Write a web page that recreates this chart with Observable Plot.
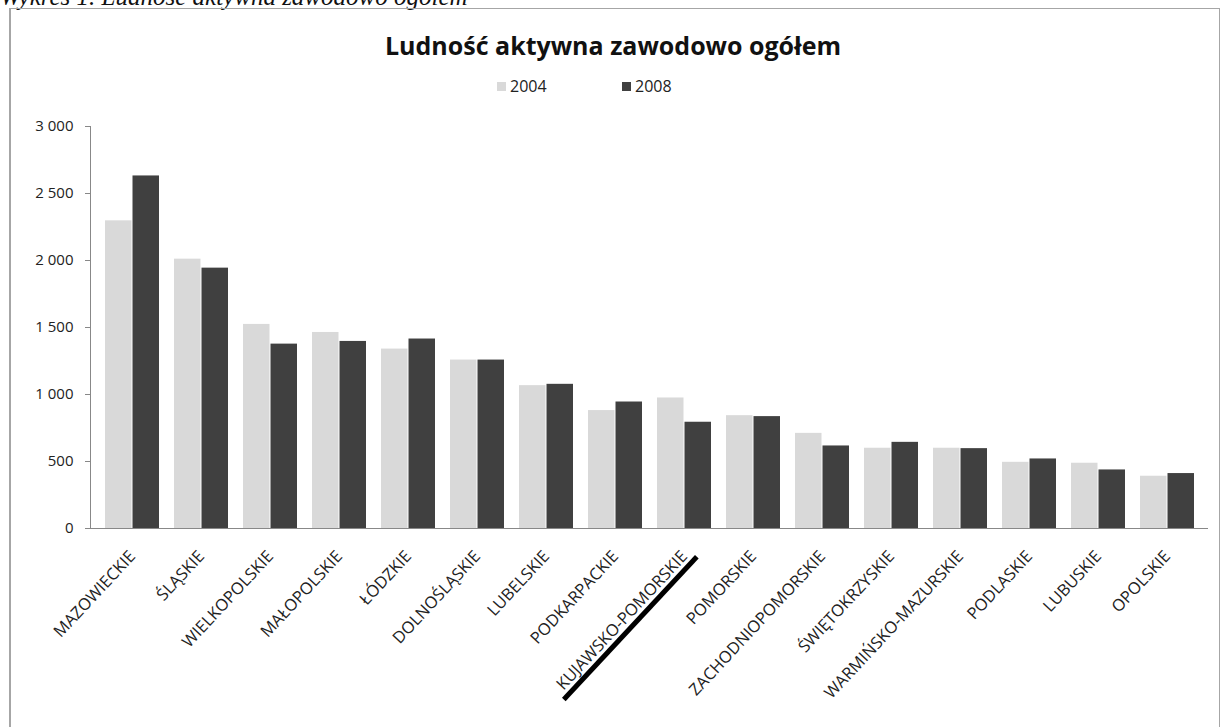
<!DOCTYPE html>
<html>
<head>
<meta charset="utf-8">
<script src="https://cdn.jsdelivr.net/npm/d3@7"></script>
<script src="https://cdn.jsdelivr.net/npm/@observablehq/plot@0.6"></script>
<style>
  html, body { margin: 0; padding: 0; background: #fff; width: 1226px; height: 727px; overflow: hidden; position: relative; }
  #caption { position: absolute; left: 0; top: -17px; font-family: "Liberation Serif", serif; font-style: italic; font-size: 25px; color: #111; white-space: nowrap; }
  #box { position: absolute; left: 9px; top: 8px; width: 1211px; height: 740px; border: 1px solid #a6a6a6; border-left-width: 2px; box-sizing: border-box; }
  #title { position: absolute; left: 0; width: 1226px; top: 28px; text-align: center; font-family: "Open Sans", Lato, sans-serif; font-weight: bold; font-size: 25px; color: #111; }
  #legend { position: absolute; left: 0; top: 75px; font-family: "Open Sans", Lato, sans-serif; font-size: 16px; color: #222; }
  #legend span.item { position: absolute; white-space: nowrap; }
  #legend i { display: inline-block; width: 9px; height: 9px; margin-right: 4px; vertical-align: 1px; }
  #chart { position: absolute; left: 0; top: 100px; }
</style>
</head>
<body>
<div id="caption">Wykres 1. Ludność aktywna zawodowo ogółem</div>
<div id="box"></div>
<div id="title">Ludność aktywna zawodowo ogółem</div>
<div id="legend"></div>
<div id="chart"></div>
<script>
const regions = ["MAZOWIECKIE","ŚLĄSKIE","WIELKOPOLSKIE","MAŁOPOLSKIE","ŁÓDZKIE","DOLNOŚLĄSKIE","LUBELSKIE","PODKARPACKIE","KUJAWSKO-POMORSKIE","POMORSKIE","ZACHODNIOPOMORSKIE","ŚWIĘTOKRZYSKIE","WARMIŃSKO-MAZURSKIE","PODLASKIE","LUBUSKIE","OPOLSKIE"];
const years = ["2004", "2008"];
const values2004 = [2296, 2010, 1523, 1463, 1339, 1257, 1066, 880, 974, 842, 710, 599, 599, 494, 487, 390];
const values2008 = [2631, 1943, 1376, 1396, 1414, 1257, 1076, 944, 793, 835, 616, 643, 596, 519, 437, 410];
const yTicks = [0, 500, 1000, 1500, 2000, 2500, 3000];
const colors = ["#d9d9d9", "#404040"];
const highlighted = "KUJAWSKO-POMORSKIE";
const legendLeft = [497, 622];

const rows2004 = regions.map((r, i) => ({region: r, year: years[0], value: values2004[i]}));
const rows2008 = regions.map((r, i) => ({region: r, year: years[1], value: values2008[i]}));

// legend
const legend = document.getElementById("legend");
years.forEach((y, i) => {
  const s = document.createElement("span");
  s.className = "item";
  s.style.left = legendLeft[i] + "px";
  s.innerHTML = `<i style="background:${colors[i]}"></i>${y}`;
  legend.appendChild(s);
});

const fmt = d => d3.format(",")(d).replace(/,/g, " ");

const chart = Plot.plot({
  width: 1226,
  height: 620,
  marginLeft: 90,
  marginRight: 18,
  marginTop: 26,
  marginBottom: 192,
  style: {fontFamily: "'Open Sans', Lato, sans-serif", color: "#222", background: "transparent"},
  x: {domain: regions, paddingInner: 0.22, paddingOuter: 0.11, label: null},
  y: {domain: [0, 3000], label: null},
  color: {domain: years, range: colors},
  marks: [
    Plot.barY(rows2004, {x: "region", y: "value", fill: "year", insetRight: 27.5}),
    Plot.barY(rows2008, {x: "region", y: "value", fill: "year", insetLeft: 27.5}),
    Plot.ruleY([0], {stroke: "#888", strokeWidth: 1}),
    Plot.frame({anchor: "left", stroke: "#888"}),
    Plot.axisY({ticks: yTicks, tickFormat: fmt, tickSize: 5, tickPadding: 12, fontSize: 15, stroke: "#888", label: null}),
    Plot.axisX({tickSize: 0, tickRotate: -47, tickPadding: 25, fontSize: 16.5, label: null})
  ]
});
document.getElementById("chart").appendChild(chart);

// underline annotation under the highlighted label, derived from its own bounding box
d3.select(chart).selectAll("g[aria-label='x-axis tick label'] text").each(function() {
  if (this.textContent === highlighted) {
    const b = this.getBBox();
    const tr = this.getAttribute("transform") || "";
    d3.select(this.parentNode).append("line")
      .attr("transform", tr)
      .attr("x1", b.x - 6).attr("x2", b.x + b.width + 6)
      .attr("y1", b.y + b.height + 1).attr("y2", b.y + b.height + 1)
      .attr("stroke", "#000").attr("stroke-width", 5);
  }
});
</script>
</body>
</html>
